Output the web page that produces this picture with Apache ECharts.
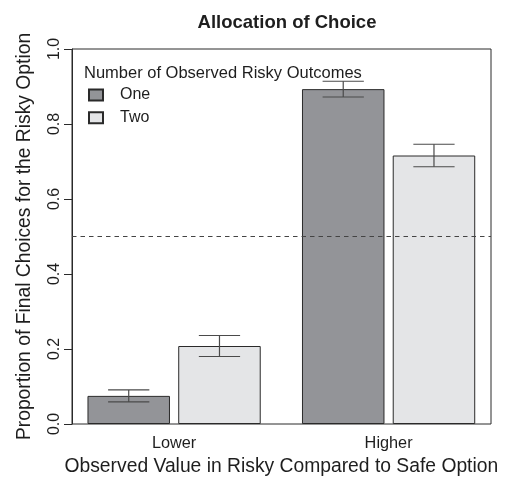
<!DOCTYPE html>
<html>
<head>
<meta charset="utf-8">
<script src="https://cdn.jsdelivr.net/npm/echarts@6/dist/echarts.min.js"></script>
<style>
  html, body { margin: 0; padding: 0; background: #fff; }
  #chart { width: 505px; height: 480px; }
</style>
</head>
<body>
<div id="chart"></div>
<script>
// Proportion of final risky choices, by observed value and number of risky outcomes
const categories = ['Lower', 'Higher'];
const seriesNames = ['One', 'Two'];
const meanOne = [0.075, 0.893];
const meanTwo = [0.208, 0.716];
const seOne = [0.016, 0.021];
const seTwo = [0.028, 0.030];
const chanceLevel = 0.5;

const FONT = '"Liberation Sans", Arial, Helvetica, sans-serif';
const INK = '#1e1e1e';
const FILL_ONE = '#939498';
const FILL_TWO = '#e4e5e7';

// bar layout (pixels): width of one bar and the gap between bars in a group
const BAR_W = 82.5;
const BAR_GAP = 0.1; // fraction of bar width

function errorData(means, ses) {
  return means.map((m, i) => [i, m - ses[i], m + ses[i]]);
}

function errorRenderer(side) {
  return function (params, api) {
    const x = api.value(0);
    const lo = api.coord([x, api.value(1)]);
    const hi = api.coord([x, api.value(2)]);
    const shift = side * (BAR_W + BAR_W * BAR_GAP) / 2;
    const cx = lo[0] + shift;
    const half = BAR_W / 4;
    const style = { stroke: '#4a4a4a', lineWidth: 1.2 };
    return {
      type: 'group',
      children: [
        { type: 'line', shape: { x1: cx, y1: hi[1], x2: cx, y2: lo[1] }, style },
        { type: 'line', shape: { x1: cx - half, y1: hi[1], x2: cx + half, y2: hi[1] }, style },
        { type: 'line', shape: { x1: cx - half, y1: lo[1], x2: cx + half, y2: lo[1] }, style }
      ]
    };
  };
}

const chart = echarts.init(document.getElementById('chart'), null, { renderer: 'canvas' });

chart.setOption({
  animation: false,
  backgroundColor: '#ffffff',
  textStyle: { fontFamily: FONT, color: INK },
  title: [
    {
      text: 'Allocation of Choice',
      left: 282,
      textAlign: 'center',
      top: 8,
      textStyle: { fontFamily: FONT, fontSize: 18.5, fontWeight: 'bold', color: INK }
    },
    {
      text: 'Number of Observed Risky Outcomes',
      left: 84,
      top: 65,
      padding: 0,
      textStyle: { fontFamily: FONT, fontSize: 16.5, fontWeight: 'normal', color: INK }
    }
  ],
  legend: {
    data: seriesNames,
    orient: 'vertical',
    left: 88,
    top: 87,
    padding: 0,
    icon: 'rect',
    itemWidth: 14,
    itemHeight: 11,
    itemGap: 6.7,
    textStyle: { fontFamily: FONT, fontSize: 16, color: INK, lineHeight: 16, padding: [0, 0, 0, 12] }
  },
  grid: [
    // plotting frame with the visible y axis
    { left: 72, right: 14, top: 49, bottom: 56, outerBoundsMode: 'none', containLabel: false,
      show: true, borderColor: '#2a2a2a', borderWidth: 1, backgroundColor: 'transparent' },
    // bar layout region
    { left: 66.85, right: 9.15, top: 49, bottom: 56, outerBoundsMode: 'none', containLabel: false }
  ],
  xAxis: [
    { gridIndex: 0, type: 'value', min: 0, max: 1, show: false },
    {
      gridIndex: 1,
      type: 'category',
      data: categories,
      axisLine: { show: false },
      axisTick: { show: false },
      axisLabel: { fontFamily: FONT, fontSize: 16.3, color: INK, margin: 12 },
      name: 'Observed Value in Risky Compared to Safe Option',
      nameLocation: 'middle',
      nameGap: 33,
      nameTextStyle: { fontFamily: FONT, fontSize: 19.3, color: INK }
    }
  ],
  yAxis: [
    {
      gridIndex: 0,
      type: 'value',
      min: 0,
      max: 1,
      interval: 0.2,
      axisLine: { show: true, lineStyle: { color: '#2a2a2a', width: 1 } },
      axisTick: { show: true, inside: false, length: 8, lineStyle: { color: '#2a2a2a' } },
      splitLine: { show: false },
      axisLabel: {
        rotate: 90,
        margin: 9,
        fontFamily: FONT,
        fontSize: 16,
        color: INK,
        formatter: v => v.toFixed(1)
      },
      name: 'Proportion of Final Choices for the Risky Option',
      nameLocation: 'middle',
      nameRotate: 90,
      nameGap: 38,
      nameTextStyle: { fontFamily: FONT, fontSize: 19.3, color: INK }
    },
    { gridIndex: 1, type: 'value', min: 0, max: 1, show: false }
  ],
  series: [
    {
      name: 'chance',
      type: 'line',
      xAxisIndex: 0,
      yAxisIndex: 0,
      data: [],
      z: 1,
      silent: true,
      markLine: {
        silent: true,
        symbol: 'none',
        label: { show: false },
        lineStyle: { color: '#444', width: 1.2, type: [4.5, 4] },
        data: [{ yAxis: chanceLevel }]
      }
    },
    {
      name: 'One',
      type: 'bar',
      xAxisIndex: 1,
      yAxisIndex: 1,
      data: meanOne,
      barWidth: BAR_W,
      barGap: (BAR_GAP * 100) + '%',
      z: 2,
      itemStyle: { color: FILL_ONE, borderColor: '#2a2a2a', borderWidth: 1 }
    },
    {
      name: 'Two',
      type: 'bar',
      xAxisIndex: 1,
      yAxisIndex: 1,
      data: meanTwo,
      barWidth: BAR_W,
      barGap: (BAR_GAP * 100) + '%',
      z: 2,
      itemStyle: { color: FILL_TWO, borderColor: '#2a2a2a', borderWidth: 1 }
    },
    {
      name: 'One SE',
      type: 'custom',
      xAxisIndex: 1,
      yAxisIndex: 1,
      z: 3,
      silent: true,
      renderItem: errorRenderer(-1),
      encode: { x: 0, y: [1, 2] },
      data: errorData(meanOne, seOne)
    },
    {
      name: 'Two SE',
      type: 'custom',
      xAxisIndex: 1,
      yAxisIndex: 1,
      z: 3,
      silent: true,
      renderItem: errorRenderer(1),
      encode: { x: 0, y: [1, 2] },
      data: errorData(meanTwo, seTwo)
    }
  ]
});
</script>
</body>
</html>
